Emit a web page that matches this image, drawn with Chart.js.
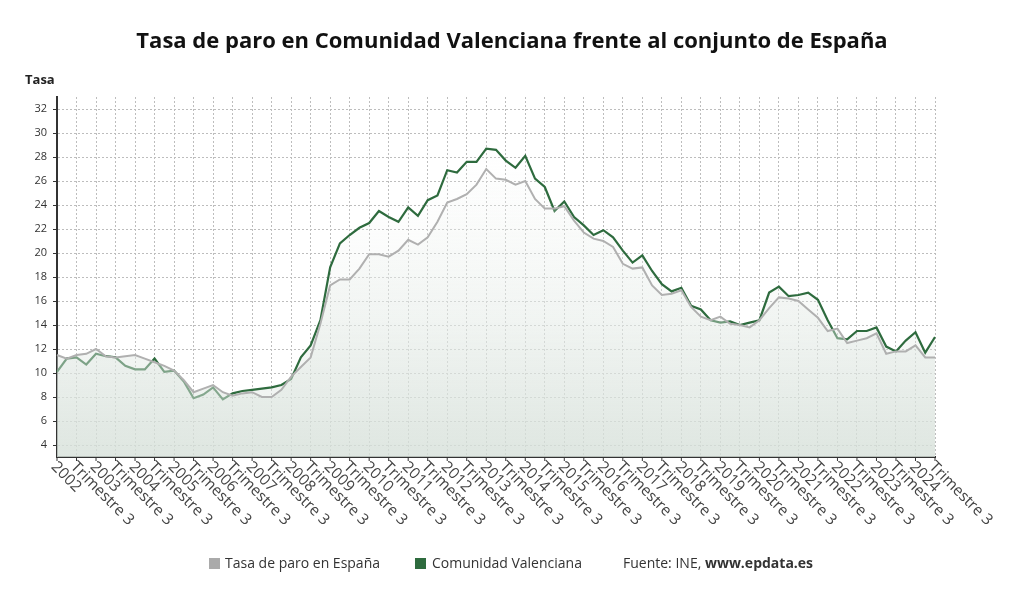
<!DOCTYPE html>
<html><head><meta charset="utf-8">
<script src="https://cdn.jsdelivr.net/npm/chart.js@4"></script>
<style>html,body{margin:0;padding:0;background:#fff}#w{width:1024px;height:601px;position:relative}</style>
</head><body><div id="w"><canvas id="c" width="1024" height="601"></canvas></div>
<script>
const years = [];
for (let y = 2002; y <= 2024; y++) years.push(y);
const quarters = [];
years.forEach(y => { for (let q = 1; q <= 4; q++) if (!(y === 2024 && q > 3)) quarters.push(y + ' T' + q); });
const espana = [11.5,11.2,11.5,11.6,12.0,11.4,11.3,11.4,11.5,11.2,10.9,10.6,10.2,9.4,8.4,8.7,9.0,8.4,8.1,8.3,8.4,8.0,8.0,8.6,9.7,10.5,11.3,14.1,17.3,17.8,17.8,18.7,19.9,19.9,19.7,20.2,21.1,20.7,21.3,22.6,24.2,24.5,24.9,25.7,27.0,26.2,26.1,25.7,26.0,24.5,23.7,23.7,23.9,22.7,21.7,21.2,21.0,20.5,19.1,18.7,18.8,17.3,16.5,16.6,16.9,15.5,14.7,14.4,14.7,14.1,14.0,13.8,14.4,15.4,16.3,16.2,16.0,15.3,14.6,13.5,13.7,12.5,12.7,12.9,13.3,11.6,11.8,11.8,12.3,11.3,11.3];
const valenciana = [10.1,11.2,11.3,10.7,11.6,11.4,11.3,10.6,10.3,10.3,11.2,10.1,10.2,9.3,7.9,8.2,8.8,7.8,8.3,8.5,8.6,8.7,8.8,9.0,9.5,11.3,12.3,14.4,18.8,20.8,21.5,22.1,22.5,23.5,23.0,22.6,23.8,23.1,24.4,24.8,26.9,26.7,27.6,27.6,28.7,28.6,27.7,27.1,28.1,26.2,25.5,23.5,24.3,23.0,22.3,21.5,21.9,21.3,20.2,19.2,19.8,18.5,17.4,16.8,17.1,15.6,15.3,14.4,14.2,14.3,14.0,14.2,14.4,16.7,17.2,16.4,16.5,16.7,16.1,14.4,12.9,12.8,13.5,13.5,13.8,12.2,11.8,12.7,13.4,11.7,13.0];
const yTicks = [4,6,8,10,12,14,16,18,20,22,24,26,28,30,32];
const xLabels = quarters.map((q, i) => i % 4 === 0 ? q.slice(0, 4) : (i % 4 === 2 ? 'Trimestre 3' : null));

const F = '"Open Sans", "Noto Sans", sans-serif';
function grad(ctx, a) {
  const ca = ctx.chart.chartArea; if (!ca) return 'rgba(0,0,0,0)';
  const g = ctx.chart.ctx.createLinearGradient(0, ca.top, 0, ca.bottom);
  g.addColorStop(0, 'rgba(255,255,255,0)');
  g.addColorStop(1, 'rgba(214,224,217,' + a + ')');
  return g;
}
const deco = {
  id: 'deco',
  afterDraw(chart) {
    const c = chart.ctx, xs = chart.scales.x, ca = chart.chartArea;
    c.save();
    c.fillStyle = '#111'; c.font = 'bold 22px ' + F; c.textAlign = 'center'; c.textBaseline = 'middle';
    c.fillText('Tasa de paro en Comunidad Valenciana frente al conjunto de España', 512, 42);
    c.font = 'bold 13px ' + F; c.textAlign = 'left'; c.fillStyle = '#222';
    c.fillText('Tasa', 25, 80);
    c.font = '15.5px ' + F; c.fillStyle = '#444'; c.textBaseline = 'top';
    xLabels.forEach((l, i) => {
      if (!l) return;
      const x = xs.getPixelForValue(i);
      c.save(); c.translate(x + 2, ca.bottom + 2); c.rotate(Math.PI / 4); c.fillText(l, 0, 0); c.restore();
      c.strokeStyle = '#333'; c.lineWidth = 1; c.beginPath(); c.moveTo(x, ca.bottom); c.lineTo(x, ca.bottom + 4); c.stroke();
    });
    c.textBaseline = 'middle'; c.font = '14px ' + F;
    c.fillStyle = '#aaaaaa'; c.fillRect(209, 558, 11, 11);
    c.fillStyle = '#333'; c.fillText('Tasa de paro en España', 225, 564);
    c.fillStyle = '#2e6b3e'; c.fillRect(415, 558, 11, 11);
    c.fillStyle = '#333'; c.fillText('Comunidad Valenciana', 432, 564);
    c.fillText('Fuente: INE, ', 623, 564);
    const w = c.measureText('Fuente: INE, ').width;
    c.font = 'bold 14px ' + F; c.fillText('www.epdata.es', 623 + w, 564);
    c.restore();
  }
};
new Chart(document.getElementById('c'), {
  type: 'line',
  data: { labels: quarters, datasets: [
    { label: 'Tasa de paro en España', data: espana, borderColor: '#b0b0b0', borderWidth: 2, pointRadius: 0, tension: 0, fill: 'origin', backgroundColor: c => grad(c, 0.6) },
    { label: 'Comunidad Valenciana', data: valenciana, borderColor: '#2e6b3e', borderWidth: 2.2, pointRadius: 0, tension: 0, fill: 'origin', backgroundColor: c => grad(c, 0.5) }
  ]},
  options: {
    responsive: false, animation: false,
    layout: { padding: { top: 97, right: 89, bottom: 144, left: 0 } },
    plugins: { legend: { display: false }, title: { display: false }, tooltip: { enabled: false } },
    scales: {
      x: {
        offset: false,
        afterFit(s) { s.height = 0; },
        ticks: { display: false, autoSkip: false },
        grid: { color: c => (c.index % 2 === 0 ? '#bdbdbd' : 'rgba(0,0,0,0)'), tickLength: 0, drawTicks: false },
        border: { color: '#333', width: 2, dash: [2, 2] }
      },
      y: {
        min: 3, max: 33,
        afterFit(s) { s.width = 57; },
        afterBuildTicks(s) { s.ticks = yTicks.map(v => ({ value: v })); },
        ticks: { font: { size: 11, family: F }, color: '#333', padding: 6 },
        grid: { color: '#bdbdbd', tickLength: 4, tickColor: '#333', tickBorderDash: [] },
        border: { color: '#333', width: 2, dash: [2, 2] }
      }
    }
  },
  plugins: [deco]
});
</script></body></html>
